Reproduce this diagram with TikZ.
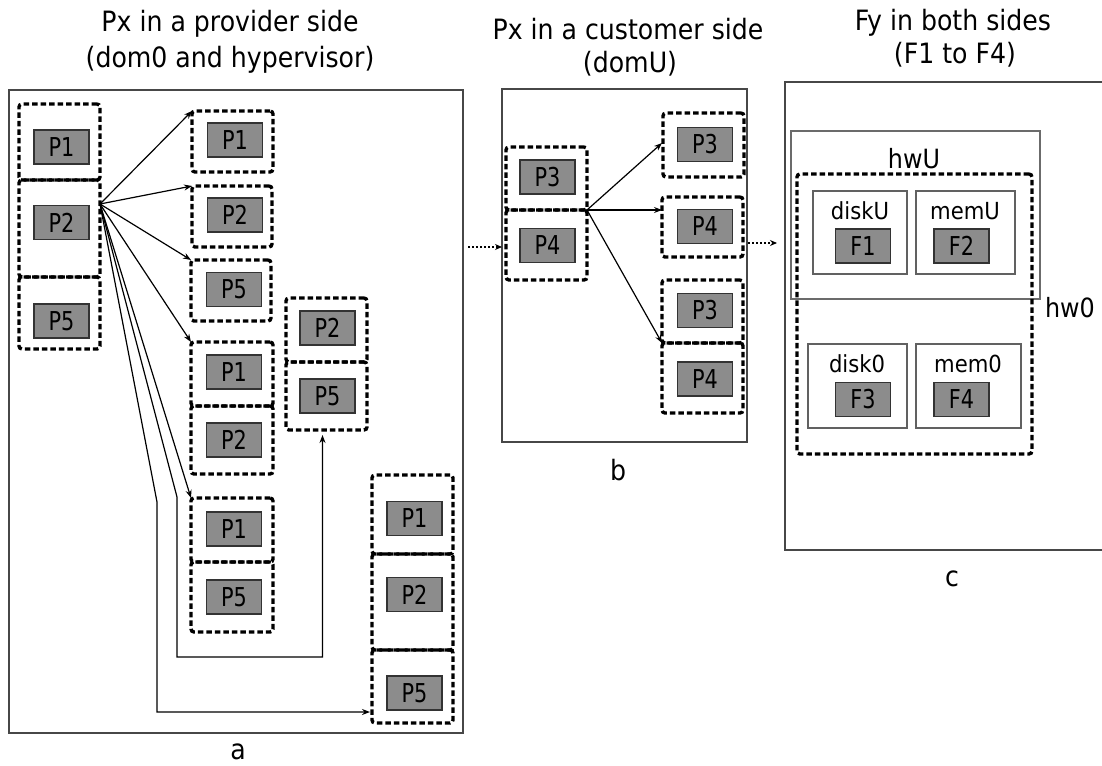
\documentclass[tikz,border=0pt]{standalone}
\usepackage{fontspec}
\setmainfont{DejaVu Sans}[FakeStretch=0.9]
\newfontfamily\condf{DejaVu Sans}[FakeStretch=0.8]
\usetikzlibrary{arrows.meta,calc}
\newcommand\fsT{\fontsize{28}{30}\selectfont}
\newcommand\fsP{\condf\fontsize{26}{28}\selectfont}
\newcommand\fsD{\fontsize{23.5}{25}\selectfont}
\newcommand\fsH{\fontsize{26.5}{28}\selectfont}
\newcommand\fsL{\fontsize{28}{30}\selectfont}
\newcommand\RectNode[6]{%
  \node[#1, minimum width={(#5)-(#3)}, minimum height={(#6)-(#4)}] (#2)
    at ({((#3)+(#5))/2},{((#4)+(#6))/2}) {};}
\newcommand\GBox[4]{\node[gbox] (#1) at (#2,#3) {#4};}
\tikzset{
  panel/.style={draw=black!72, line width=1.6pt, inner sep=0pt, outer sep=0pt},
  dbox/.style={draw=black, line width=3.4pt, dash pattern=on 5.5pt off 3pt,
    rounded corners=3pt, inner sep=0pt, outer sep=0pt},
  gbox/.style={draw=black!80, line width=1.4pt, fill=black!45, inner sep=0pt,
    minimum width=55pt, minimum height=34pt, font=\fsP},
  ibox/.style={draw=black!62, line width=1.5pt, fill=white, inner sep=0pt, outer sep=0pt},
  hwbox/.style={draw=black!58, line width=2pt, inner sep=0pt, outer sep=0pt},
  arr/.style={draw=black, line width=1.2pt, -{Stealth[length=8pt,width=6pt]}},
  dotarr/.style={draw=black, line width=1.4pt, dash pattern=on 2pt off 2pt,
    -{Stealth[length=7pt,width=6pt]}},
  ttl/.style={anchor=base, font=\fsT, inner sep=0pt},
  lbl/.style={anchor=base, inner sep=0pt},
}
\begin{document}
\begin{tikzpicture}[x=1pt,y=-1pt]
\clip (0,0) rectangle (1102,765);
\fill[white] (0,0) rectangle (1102,765);

% titles
\node[ttl] (ta1) at (230,32) {Px in a provider side};
\node[ttl] (ta2) at (230,68) {(dom0 and hypervisor)};
\node[ttl] (tb1) at (628,40) {Px in a customer side};
\node[ttl] (tb2) at (630,73) {(domU)};
\node[ttl] (tc1) at (953,31) {Fy in both sides};
\node[ttl] (tc2) at (955,64) {(F1 to F4)};

% panels
\RectNode{panel}{pa}{9}{90}{463}{733}
\RectNode{panel}{pb}{502}{89}{747}{442}
\RectNode{panel}{pc}{785}{82}{1110}{550}
\node[lbl, font=\fsL] (la) at (238,759) {a};
\node[lbl, font=\fsL] (lb) at (618,480) {b};
\node[lbl, font=\fsL] (lc) at (952,586) {c};

% ---------- panel a ----------
\RectNode{dbox}{L1}{19}{104}{100}{180}
\RectNode{dbox}{L2}{19}{180}{100}{277}
\RectNode{dbox}{L5}{19}{277}{100}{349}
\GBox{gL1}{61.5}{147}{P1}
\GBox{gL2}{61.5}{222.5}{P2}
\GBox{gL5}{61.5}{321}{P5}

\RectNode{dbox}{A1}{192}{111}{273}{172}
\RectNode{dbox}{A2}{192}{186}{272}{247}
\RectNode{dbox}{A3}{191}{260}{271}{321}
\GBox{gA1}{235}{140}{P1}
\GBox{gA2}{235}{215}{P2}
\GBox{gA3}{234}{289.5}{P5}

\RectNode{dbox}{B1}{191}{342}{273}{406}
\RectNode{dbox}{B2}{191}{406}{273}{474}
\GBox{gB1}{234}{372}{P1}
\GBox{gB2}{234}{440}{P2}

\RectNode{dbox}{C1}{191}{498}{273}{562}
\RectNode{dbox}{C2}{191}{562}{273}{632}
\GBox{gC1}{234}{529}{P1}
\GBox{gC2}{234}{597}{P5}

\RectNode{dbox}{D1}{286}{298}{367}{362}
\RectNode{dbox}{D2}{286}{362}{367}{430}
\GBox{gD1}{327.5}{328}{P2}
\GBox{gD2}{327.5}{396}{P5}

\RectNode{dbox}{E1}{372}{475}{453}{554}
\RectNode{dbox}{E2}{372}{554}{453}{650}
\RectNode{dbox}{E5}{372}{650}{453}{723}
\GBox{gE1}{414.5}{518.5}{P1}
\GBox{gE2}{414.5}{594.5}{P2}
\GBox{gE5}{414.5}{693}{P5}

\coordinate (srcA) at (100,204);
\draw[arr] (srcA) -- (A1.north west);
\draw[arr] (srcA) -- (A2.north west);
\draw[arr] (srcA) -- (A3.north west);
\draw[arr] (srcA) -- (B1.north west);
\draw[arr] (srcA) -- (C1.north west);
\coordinate (k1) at (177,497);
\coordinate (k1b) at (177,657);
\draw[arr] (srcA) -- (k1) -- (k1b) -| ($(D2.south)+(-4,5)$);
\coordinate (k2) at (157,502);
\coordinate (k2b) at (157,712);
\draw[arr] (srcA) -- (k2) -- (k2b) -- ($(k2b -| E5.west)+(-2,0)$);

% ---------- panel b ----------
\RectNode{dbox}{F3}{506}{147}{587}{210}
\RectNode{dbox}{F4}{506}{210}{587}{280}
\GBox{gF3}{547.5}{177}{P3}
\GBox{gF4}{547.5}{245.5}{P4}

\RectNode{dbox}{G1}{663}{113}{744}{177}
\RectNode{dbox}{G2}{662}{197}{743}{257}
\RectNode{dbox}{G3}{662}{280}{743}{343}
\RectNode{dbox}{G4}{662}{343}{743}{413}
\GBox{gG1}{705}{144.5}{P3}
\GBox{gG2}{705}{226.5}{P4}
\GBox{gG3}{705}{310.5}{P3}
\GBox{gG4}{705}{379}{P4}

\draw[arr] (F4.north east) -- ($(G1.west)+(-1,-2)$);
\draw[arr] (F4.north east) -- (F4.north east -| G2.west);
\draw[arr] (F4.north east) -- (G4.north west);

% dotted links
\coordinate (d1) at (468,247);
\draw[dotarr] (d1) -- (d1 -| pb.west);
\coordinate (d2) at (748,243);
\coordinate (d2e) at (777,243);
\draw[dotarr] (d2) -- (d2e);

% ---------- panel c ----------
\RectNode{hwbox}{hwU}{791}{131}{1040}{299}
\RectNode{dbox}{hw0}{797}{174}{1032}{454}
\node[lbl, font=\fsH] (lhwU) at (914,168) {hwU};
\node[lbl, font=\fsH] (lhw0) at (1070,317) {hw0};

\RectNode{ibox}{diskU}{813}{191}{907}{274}
\RectNode{ibox}{memU}{916}{191}{1015}{274}
\RectNode{ibox}{diskO}{808}{344}{907}{428}
\RectNode{ibox}{memO}{916}{344}{1021}{428}
\node[lbl, font=\fsD] (ldiskU) at (860,219) {diskU};
\node[lbl, font=\fsD] (lmemU) at (965,219) {memU};
\node[lbl, font=\fsD] (ldiskO) at (857,372) {disk0};
\node[lbl, font=\fsD] (lmemO) at (968,372) {mem0};
\GBox{gF1}{863}{246}{F1}
\GBox{gF2}{961.5}{246}{F2}
\GBox{gF3b}{863}{399.5}{F3}
\GBox{gF4b}{961.5}{399.5}{F4}
\end{tikzpicture}
\end{document}
